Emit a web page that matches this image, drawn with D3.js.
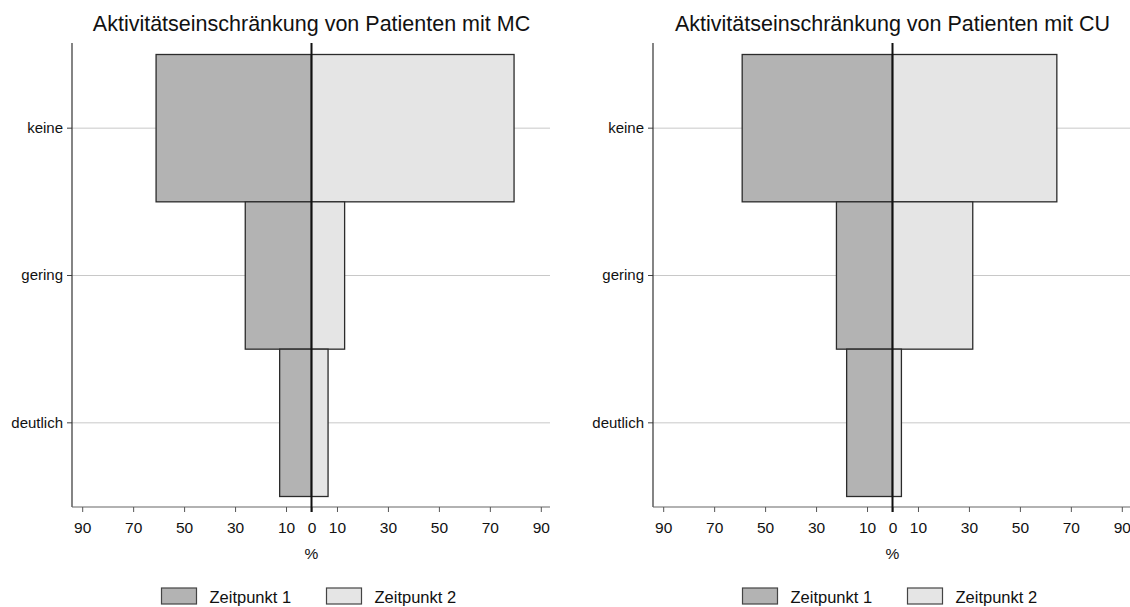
<!DOCTYPE html>
<html>
<head>
<meta charset="utf-8">
<script src="https://cdn.jsdelivr.net/npm/d3@7"></script>
<style>
  body { margin: 0; background: #fff; }
  svg { display: block; font-family: "Liberation Sans", Arial, sans-serif; }
</style>
</head>
<body>
<svg id="chart" width="1130" height="607"></svg>
<script>
// Activity limitation levels and share of patients (%) at two time points
const categories = ["keine", "gering", "deutlich"];
const mcTime1 = [61, 26, 12.5];
const mcTime2 = [79.5, 13, 6.5];
const cuTime1 = [59, 22, 18];
const cuTime2 = [64.5, 31.5, 3.5];
const xTicks = [-90, -70, -50, -30, -10, 0, 10, 30, 50, 70, 90];
const seriesNames = ["Zeitpunkt 1", "Zeitpunkt 2"];
const titles = [
  "Aktivitätseinschränkung von Patienten mit MC",
  "Aktivitätseinschränkung von Patienten mit CU"
];

const colors = { t1: "#b3b3b3", t2: "#e5e5e5", edge: "#2b2b2b" };
const svg = d3.select("#chart");

function drawPanel(left, right, title, t1, t2) {
  const g = svg.append("g");
  const x = d3.scaleLinear().domain([-94, 94]).range([left, right]);
  const y = d3.scaleBand().domain(categories).range([54.5, 496.5]).padding(0);
  const plotTop = 43, plotBottom = 507;
  const zero = x(0);

  // title
  g.append("text")
    .attr("x", zero).attr("y", 31)
    .attr("text-anchor", "middle")
    .attr("font-size", 21.5)
    .attr("fill", "#111")
    .text(title);

  // horizontal grid lines at category centers
  g.selectAll("line.grid").data(categories).join("line")
    .attr("x1", left).attr("x2", right - 1)
    .attr("y1", d => y(d) + y.bandwidth() / 2)
    .attr("y2", d => y(d) + y.bandwidth() / 2)
    .attr("stroke", "#c8c8c8").attr("stroke-width", 1);

  // time point 1 bars extend to the left, time point 2 to the right
  g.selectAll("rect.t1").data(categories).join("rect")
    .attr("x", (d, i) => x(-t1[i]))
    .attr("width", (d, i) => zero - x(-t1[i]))
    .attr("y", d => y(d))
    .attr("height", y.bandwidth())
    .attr("fill", colors.t1)
    .attr("stroke", colors.edge).attr("stroke-width", 1.3);

  g.selectAll("rect.t2").data(categories).join("rect")
    .attr("x", zero)
    .attr("width", (d, i) => x(t2[i]) - zero)
    .attr("y", d => y(d))
    .attr("height", y.bandwidth())
    .attr("fill", colors.t2)
    .attr("stroke", colors.edge).attr("stroke-width", 1.3);

  // y axis
  const yAxis = g.append("g")
    .attr("transform", `translate(${left},0)`)
    .call(d3.axisLeft(y).tickSize(5).tickPadding(4));
  yAxis.select(".domain").remove();
  yAxis.selectAll(".tick line").attr("stroke", "#444");
  yAxis.selectAll(".tick text").attr("font-size", 15).attr("fill", "#111")
    .attr("font-family", "Liberation Sans, Arial, sans-serif");
  g.append("line")
    .attr("x1", left).attr("x2", left)
    .attr("y1", plotTop).attr("y2", plotBottom)
    .attr("stroke", "#333").attr("stroke-width", 1.2);

  // x axis
  const xAxis = g.append("g")
    .attr("transform", `translate(0,${plotBottom})`)
    .call(d3.axisBottom(x).tickValues(xTicks).tickSize(5).tickPadding(10)
      .tickFormat(d => Math.abs(d)).tickSizeOuter(0));
  xAxis.select(".domain").attr("stroke", "#666").attr("stroke-width", 1.2)
    .attr("d", `M${left},0H${right - 1}`);
  xAxis.selectAll(".tick line").attr("stroke", "#555");
  xAxis.selectAll(".tick text").attr("font-size", 15.5).attr("fill", "#111")
    .attr("font-family", "Liberation Sans, Arial, sans-serif");

  // zero line
  g.append("line")
    .attr("x1", zero).attr("x2", zero)
    .attr("y1", plotTop).attr("y2", plotBottom + 5)
    .attr("stroke", "#111").attr("stroke-width", 2);

  // axis title
  g.append("text")
    .attr("x", zero).attr("y", 559)
    .attr("text-anchor", "middle")
    .attr("font-size", 15.5).attr("fill", "#111")
    .text("%");

  // legend
  const legendX = zero - 150;
  const items = [
    { name: seriesNames[0], fill: colors.t1, dx: 0 },
    { name: seriesNames[1], fill: colors.t2, dx: 165 }
  ];
  const lg = g.append("g").attr("transform", `translate(${legendX},588)`);
  lg.selectAll("rect").data(items).join("rect")
    .attr("x", d => d.dx).attr("y", 0)
    .attr("width", 35).attr("height", 16)
    .attr("fill", d => d.fill)
    .attr("stroke", "#444").attr("stroke-width", 1.2);
  lg.selectAll("text").data(items).join("text")
    .attr("x", d => d.dx + 48).attr("y", 14.5)
    .attr("font-size", 16.5).attr("fill", "#111")
    .text(d => d.name);
}

drawPanel(72, 551, titles[0], mcTime1, mcTime2);
drawPanel(653, 1132, titles[1], cuTime1, cuTime2);
</script>
</body>
</html>
